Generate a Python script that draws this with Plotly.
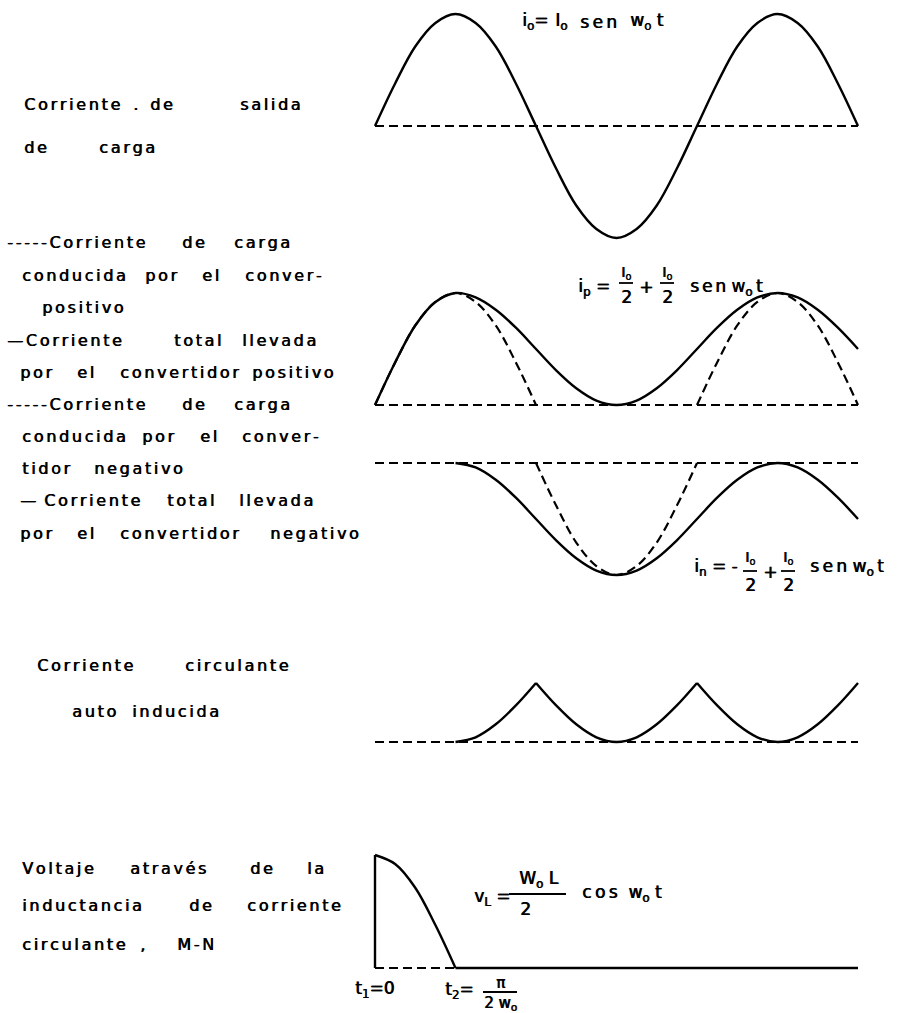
import plotly.graph_objects as go

W, H = 898, 1013

# phase angle w0*t in degrees
angle = [0, 22.5, 45, 67.5, 90, 112.5, 135, 157.5, 180, 202.5, 225, 247.5, 270,
         292.5, 315, 337.5, 360, 382.5, 405, 427.5, 450, 472.5, 495, 517.5, 540]

# load current i0 / I0
i_load = [0, 0.38, 0.71, 0.92, 1.0, 0.92, 0.71, 0.38, 0, -0.38, -0.71, -0.92, -1.0,
          -0.92, -0.71, -0.38, 0, 0.38, 0.71, 0.92, 1.0, 0.92, 0.71, 0.38, 0]

# total current carried by the positive converter
i_pos_total = [0, 0.38, 0.71, 0.92, 1.0, 0.96, 0.85, 0.69, 0.5, 0.31, 0.15, 0.04, 0,
               0.04, 0.15, 0.31, 0.5, 0.69, 0.85, 0.96, 1.0, 0.96, 0.85, 0.69, 0.5]

# load current conducted by the positive converter (two half waves)
angle_pos_a = [0, 22.5, 45, 67.5, 90, 112.5, 135, 157.5, 180]
angle_pos_b = [360, 382.5, 405, 427.5, 450, 472.5, 495, 517.5, 540]
i_pos_load = [0, 0.38, 0.71, 0.92, 1.0, 0.92, 0.71, 0.38, 0]

# total current carried by the negative converter
angle_neg = [90, 112.5, 135, 157.5, 180, 202.5, 225, 247.5, 270, 292.5, 315,
             337.5, 360, 382.5, 405, 427.5, 450, 472.5, 495, 517.5, 540]
i_neg_total = [0, -0.04, -0.15, -0.31, -0.5, -0.69, -0.85, -0.96, -1.0, -0.96, -0.85,
               -0.69, -0.5, -0.31, -0.15, -0.04, 0, -0.04, -0.15, -0.31, -0.5]

# load current conducted by the negative converter
angle_neg_load = [180, 202.5, 225, 247.5, 270, 292.5, 315, 337.5, 360]
i_neg_load = [0, -0.38, -0.71, -0.92, -1.0, -0.92, -0.71, -0.38, 0]

# self-induced circulating current, three arcs
angle_circ_a = [90, 112.5, 135, 157.5, 180]
i_circ_a = [0, 0.04, 0.15, 0.31, 0.5]
angle_circ_b = [180, 202.5, 225, 247.5, 270, 292.5, 315, 337.5, 360]
angle_circ_c = [360, 382.5, 405, 427.5, 450, 472.5, 495, 517.5, 540]
i_circ_bc = [0.5, 0.31, 0.15, 0.04, 0, 0.04, 0.15, 0.31, 0.5]

# voltage across the circulating-current inductance
angle_v = [0, 22.5, 45, 67.5, 90]
v_L = [1.0, 0.92, 0.71, 0.38, 0]

# ---- layout geometry (pixels) ----
X0_PX, X1_PX = 375, 858          # 0 deg and 540 deg
# (baseline pixel row, pixels per unit) for each strip
STRIPS = [(126, 112), (405, 112), (463, 112), (742, 118), (968, 113)]

sx = (X1_PX - X0_PX) / 540.0
xr = [-X0_PX / sx, (W - X0_PX) / sx]

FONT = "DejaVu Sans"
INK = "black"
SOLID = dict(color=INK, width=2.4)
DASH = dict(color=INK, width=2.2, dash="9px,5px")

fig = go.Figure()


def add(x, y, strip, line, shape="spline"):
    ax = "y" if strip == 0 else "y%d" % (strip + 1)
    fig.add_trace(go.Scatter(x=x, y=y, mode="lines", yaxis=ax,
                             line=dict(shape=shape, **line),
                             hoverinfo="skip", showlegend=False))


# strip 1: load current
add([0, 540], [0, 0], 0, DASH, "linear")
add(angle, i_load, 0, SOLID)

# strip 2: positive converter
add([0, 540], [0, 0], 1, DASH, "linear")
add(angle_pos_a, i_pos_load, 1, DASH)
add(angle_pos_b, i_pos_load, 1, DASH)
add(angle, i_pos_total, 1, SOLID)

# strip 3: negative converter
add([0, 540], [0, 0], 2, DASH, "linear")
add(angle_neg_load, i_neg_load, 2, DASH)
add(angle_neg, i_neg_total, 2, SOLID)

# strip 4: circulating current
add([0, 540], [0, 0], 3, DASH, "linear")
add(angle_circ_a, i_circ_a, 3, SOLID)
add(angle_circ_b, i_circ_bc, 3, SOLID)
add(angle_circ_c, i_circ_bc, 3, SOLID)

# strip 5: inductance voltage
add([0, 90], [0, 0], 4, DASH, "linear")
add([90, 540], [0, 0], 4, SOLID, "linear")
add([0, 0], [0, 1.0], 4, SOLID, "linear")
add(angle_v, v_L, 4, SOLID)

axes = {}
for k, (base, scale) in enumerate(STRIPS):
    name = "yaxis" if k == 0 else "yaxis%d" % (k + 1)
    d = dict(range=[(base - H) / scale, base / scale], domain=[0, 1],
             visible=False, fixedrange=True)
    if k > 0:
        d["overlaying"] = "y"
    axes[name] = d

ann = []
shapes = []

GAP = "\u2006"      # narrow gap between letters, lettering-guide style
THIN = "\u2009"
NB = "\u00a0"
SUBO = "<sub>o</sub>"


def spaced(s, g=GAP):
    return g.join(s)


def txt(s, x, y, anchor="left", size=16):
    ann.append(dict(text=s, x=x / W, y=1 - y / H, xref="paper", yref="paper",
                    xanchor=anchor, yanchor="middle", showarrow=False,
                    font=dict(family=FONT, size=size, color=INK,
                              shadow="0.7px 0 0 #000")))


def bar(x0, x1, y):
    shapes.append(dict(type="line", xref="paper", yref="paper",
                       x0=x0 / W, x1=x1 / W, y0=1 - y / H, y1=1 - y / H,
                       line=dict(color=INK, width=1.8)))


# left-hand descriptions, word by word: (row y, [(word, left x), ...])
left_rows = [
    (104, [("Corriente", 22), (".", 131), ("de", 148), ("salida", 238)]),
    (147, [("de", 22), ("carga", 97)]),
    (243, [("-----Corriente", 5), ("de", 180), ("carga", 232)]),
    (275, [("conducida", 20), ("por", 143), ("el", 200), ("conver-", 243)]),
    (307, [("positivo", 40)]),
    (340, [("\u2014Corriente", 5), ("total", 172), ("llevada", 240)]),
    (372, [("por", 18), ("el", 75), ("convertidor", 118), ("positivo", 250)]),
    (404, [("-----Corriente", 5), ("de", 180), ("carga", 232)]),
    (436, [("conducida", 20), ("por", 140), ("el", 198), ("conver-", 240)]),
    (468, [("tidor", 20), ("negativo", 92)]),
    (500, [("\u2014", 18), ("Corriente", 42), ("total", 165), ("llevada", 237)]),
    (533, [("por", 18), ("el", 75), ("convertidor", 118), ("negativo", 268)]),
    (665, [("Corriente", 35), ("circulante", 183)]),
    (711, [("auto", 70), ("inducida", 130)]),
    (868, [("Voltaje", 20), ("atrav\u00e9s", 128), ("de", 248), ("la", 305)]),
    (905, [("inductancia", 20), ("de", 187), ("corriente", 245)]),
    (944, [("circulante", 20), (",", 138), ("M-N", 175)]),
]
for y, words in left_rows:
    for w, x in words:
        txt(spaced(w), x, y)

WOT = "w" + SUBO + THIN + "t"

# i0 = I0 sen w0 t
txt("i" + SUBO + "=", 520, 22, size=17)
txt("I" + SUBO, 553, 22, size=17)
txt(spaced("sen", THIN), 578, 22, size=17)
txt("w" + SUBO + NB + "t", 628, 22, size=17)

# ip = I0/2 + I0/2 sen w0 t
txt("i<sub>p</sub>" + NB + "=", 576, 287, size=17)
for cx in (626, 667):
    txt("I" + SUBO, cx, 273, "center", 14)
    bar(cx - 7, cx + 7, 283)
    txt("2", cx, 297, "center", 17)
txt("+", 646, 287, "center", 17)
txt(spaced("sen") + NB + WOT, 688, 287, size=17)

# in = -I0/2 + I0/2 sen w0 t
txt("i<sub>n</sub>" + NB + "=" + NB + "-", 692, 567, size=17)
for cx in (750, 788):
    txt("I" + SUBO, cx, 558, "center", 14)
    bar(cx - 7, cx + 7, 571)
    txt("2", cx, 585, "center", 17)
txt("+", 770, 572, "center", 17)
txt(spaced("sen", THIN) + NB + WOT, 808, 567, size=17)

# vL = W0 L / 2 cos w0 t
txt("v<sub>L</sub>" + NB + "=", 472, 897, size=17)
txt("W" + SUBO + NB + "L", 538, 879, "center", 17)
bar(509, 566, 894)
txt("2", 525, 909, "center", 17)
txt(spaced("cos", THIN) + NB + NB + "w" + SUBO + NB + "t", 580, 893, size=17)

# t1 = 0, t2 = pi / (2 w0)
txt("t<sub>1</sub>=0", 353, 989, size=17)
txt("t<sub>2</sub>=", 443, 990, size=17)
txt("\u03c0", 500, 983, "center", 15)
bar(483, 517, 992)
txt("2" + NB + "w" + SUBO, 500, 1003, "center", 15)

fig.update_layout(
    width=W, height=H, margin=dict(l=0, r=0, t=0, b=0),
    paper_bgcolor="white", plot_bgcolor="white", showlegend=False,
    xaxis=dict(range=xr, domain=[0, 1], visible=False, fixedrange=True),
    annotations=ann, shapes=shapes, **axes,
)

fig.write_html("out.html", config={"displayModeBar": False})
